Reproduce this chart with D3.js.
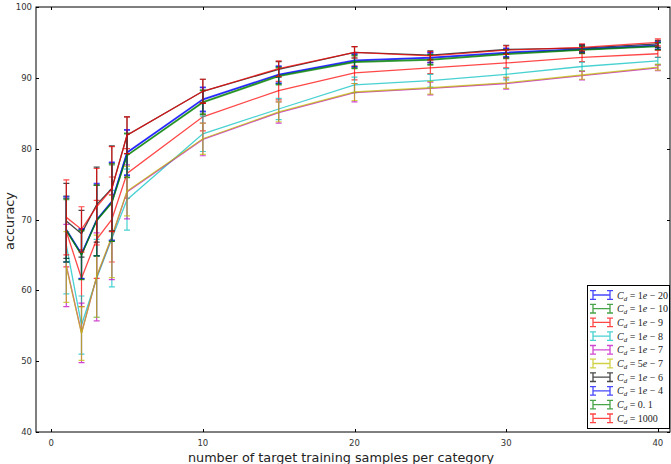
<!DOCTYPE html>
<html lang="en">
<head>
  <meta charset="UTF-8">
  <title>Accuracy vs target samples</title>
  <script src="https://d3js.org/d3.v7.min.js"></script>
  <style>
    body { margin: 0; background: #fff; }
    svg { display: block; }
    .tick-label { font-family: "DejaVu Sans", sans-serif; font-size: 8.5px; fill: #333; }
    .axis-label { font-family: "DejaVu Sans", sans-serif; font-size: 12.8px; fill: #222; }
    .legend-text { font-family: "Liberation Serif", "DejaVu Serif", serif; font-size: 10px; fill: #222; }
  </style>
</head>
<body>
<script>
// x positions: number of target training samples per category
var samples = [1, 2, 3, 4, 5, 10, 15, 20, 25, 30, 35, 40];

// legend labels (C_d values) and line colours, in drawing order
var cdLabels = ["1e-20", "1e-10", "1e-9", "1e-8", "1e-7", "5e-7", "1e-6", "1e-4", "0.1", "1000"];
var colors = ["#0000ff", "#008000", "#ff0000", "#00bfbf", "#bf00bf", "#bfbf00", "#000000", "#0000ff", "#008000", "#ff0000"];

// mean accuracy for each C_d
var acc_1e20 = [68.5, 65.1, 69.9, 72.5, 79.4, 86.9, 90.4, 92.4, 92.8, 93.5, 94.0, 94.5];
var acc_1e10 = [68.4, 65.0, 69.8, 72.3, 79.0, 86.5, 90.2, 92.2, 92.5, 93.3, 93.9, 94.4];
var acc_1e9  = [68.3, 61.7, 67.2, 70.0, 76.5, 84.5, 88.2, 90.7, 91.4, 92.1, 92.9, 93.4];
var acc_1e8  = [66.4, 55.1, 61.7, 67.3, 72.8, 82.1, 85.6, 89.0, 89.6, 90.5, 91.6, 92.4];
var acc_1e7  = [63.5, 54.0, 61.9, 67.5, 73.9, 81.3, 85.1, 87.9, 88.5, 89.2, 90.3, 91.4];
var acc_5e7  = [63.3, 53.9, 62.0, 67.6, 74.0, 81.4, 85.2, 88.0, 88.6, 89.3, 90.4, 91.5];
var acc_1e6  = [69.8, 68.0, 72.1, 74.4, 81.9, 88.1, 91.2, 93.6, 93.2, 94.0, 94.2, 94.8];
var acc_1e4  = [68.6, 65.2, 70.0, 72.6, 79.5, 87.0, 90.5, 92.5, 92.9, 93.6, 94.1, 94.6];
var acc_01   = [68.5, 65.0, 69.9, 72.4, 79.1, 86.6, 90.3, 92.3, 92.6, 93.4, 94.0, 94.5];
var acc_1000 = [70.3, 68.6, 71.8, 74.3, 81.9, 88.1, 91.3, 93.6, 93.1, 93.9, 94.3, 95.0];

// error bar half-widths
var err_1e20 = [4.5, 3.5, 5.0, 5.5, 3.2, 1.7, 1.2, 0.9, 0.7, 0.6, 0.5, 0.5];
var err_1e10 = [4.4, 3.4, 5.0, 5.4, 3.1, 1.7, 1.2, 0.9, 0.7, 0.6, 0.5, 0.5];
var err_1e9  = [5.0, 4.0, 5.5, 6.0, 3.5, 2.0, 1.3, 1.0, 0.8, 0.7, 0.6, 0.5];
var err_1e8  = [6.9, 4.1, 5.5, 6.8, 4.3, 2.5, 1.5, 1.1, 0.9, 0.8, 0.6, 0.5];
var err_1e7  = [5.8, 4.2, 6.2, 6.0, 3.8, 2.3, 1.5, 1.3, 0.9, 0.8, 0.6, 0.4];
var err_5e7  = [5.0, 3.8, 5.8, 5.8, 3.5, 2.2, 1.4, 1.2, 0.9, 0.8, 0.6, 0.4];
var err_1e6  = [5.3, 3.3, 5.3, 6.0, 2.6, 1.7, 1.1, 0.8, 0.6, 0.6, 0.5, 0.5];
var err_1e4  = [4.6, 3.5, 5.1, 5.5, 3.2, 1.7, 1.2, 0.9, 0.7, 0.6, 0.5, 0.5];
var err_01   = [4.5, 3.5, 5.0, 5.5, 3.1, 1.7, 1.2, 0.9, 0.7, 0.6, 0.5, 0.5];
var err_1000 = [5.3, 3.2, 5.4, 6.0, 2.6, 1.7, 1.1, 0.8, 0.6, 0.6, 0.5, 0.5];

var xTicks = [0, 10, 20, 30, 40];
var yTicks = [40, 50, 60, 70, 80, 90, 100];

var means = [acc_1e20, acc_1e10, acc_1e9, acc_1e8, acc_1e7, acc_5e7, acc_1e6, acc_1e4, acc_01, acc_1000];
var errs = [err_1e20, err_1e10, err_1e9, err_1e8, err_1e7, err_5e7, err_1e6, err_1e4, err_01, err_1000];

var series = cdLabels.map(function(lab, i) {
  return {
    label: lab,
    color: colors[i],
    points: samples.map(function(s, j) { return {x: s, y: means[i][j], e: errs[i][j]}; })
  };
});

var W = 671, H = 464;
var plotLeft = 36, plotRight = 670, plotTop = 7, plotBottom = 432;

var svg = d3.select("body").append("svg")
  .attr("width", W)
  .attr("height", H);

var x = d3.scaleLinear().domain([-1, 40.8]).range([plotLeft, plotRight]);
var y = d3.scaleLinear().domain([40, 100]).range([plotBottom, plotTop]);

// plot lines and error bars
var alpha = 0.72;
var line = d3.line().x(function(d) { return x(d.x); }).y(function(d) { return y(d.y); });

series.forEach(function(s) {
  var g = svg.append("g")
    .attr("stroke", s.color)
    .attr("stroke-opacity", alpha)
    .attr("fill", "none");

  g.append("path")
    .attr("d", line(s.points))
    .attr("stroke-width", 1.3);

  g.selectAll(".eb")
    .data(s.points)
    .enter().append("path")
    .attr("stroke-width", 1.2)
    .attr("d", function(d) {
      var cx = x(d.x), y0 = y(d.y - d.e), y1 = y(d.y + d.e);
      return "M" + cx + "," + y0 + "V" + y1 +
             "M" + (cx - 3) + "," + y0 + "H" + (cx + 3) +
             "M" + (cx - 3) + "," + y1 + "H" + (cx + 3);
    });
});

// frame
svg.append("rect")
  .attr("x", plotLeft).attr("y", plotTop)
  .attr("width", plotRight - plotLeft).attr("height", plotBottom - plotTop)
  .attr("fill", "none").attr("stroke", "#000").attr("stroke-width", 1);

// ticks (inward, all four sides)
var tickLen = 3;
xTicks.forEach(function(t) {
  var px = Math.round(x(t)) + 0.5;
  svg.append("line").attr("x1", px).attr("x2", px).attr("y1", plotBottom).attr("y2", plotBottom - tickLen).attr("stroke", "#000");
  svg.append("line").attr("x1", px).attr("x2", px).attr("y1", plotTop).attr("y2", plotTop + tickLen).attr("stroke", "#000");
  svg.append("text").attr("class", "tick-label")
    .attr("x", x(t)).attr("y", plotBottom + 14)
    .attr("text-anchor", "middle")
    .text(t);
});
yTicks.forEach(function(t) {
  var py = Math.round(y(t)) + 0.5;
  svg.append("line").attr("x1", plotLeft).attr("x2", plotLeft + tickLen).attr("y1", py).attr("y2", py).attr("stroke", "#000");
  svg.append("line").attr("x1", plotRight).attr("x2", plotRight - tickLen).attr("y1", py).attr("y2", py).attr("stroke", "#000");
  svg.append("text").attr("class", "tick-label")
    .attr("x", plotLeft - 4).attr("y", y(t) + 3)
    .attr("text-anchor", "end")
    .text(t);
});

// axis labels
svg.append("text").attr("class", "axis-label")
  .attr("x", 341).attr("y", 462)
  .attr("text-anchor", "middle")
  .text("number of target training samples per category");

svg.append("text").attr("class", "axis-label")
  .attr("transform", "translate(14," + 221 + ") rotate(-90)")
  .attr("text-anchor", "middle")
  .text("accuracy");

// legend
var lgX = 587, lgY = 285, lgW = 82, lgH = 143, rowH = 13.7;
svg.append("rect")
  .attr("x", lgX + 0.5).attr("y", lgY + 0.5)
  .attr("width", lgW).attr("height", lgH)
  .attr("fill", "#fff").attr("stroke", "#000").attr("stroke-width", 1);

series.forEach(function(s, i) {
  var cy = lgY + 10 + i * rowH;
  var g = svg.append("g")
    .attr("stroke", s.color)
    .attr("stroke-opacity", alpha)
    .attr("stroke-width", 1.3)
    .attr("fill", "none");
  var xa = lgX + 6, xb = lgX + 23;
  g.append("path").attr("d",
    "M" + xa + "," + cy + "H" + xb +
    "M" + xa + "," + (cy - 4.3) + "V" + (cy + 4.3) +
    "M" + xb + "," + (cy - 4.3) + "V" + (cy + 4.3) +
    "M" + (xa - 3) + "," + (cy - 4.3) + "H" + (xa + 3) +
    "M" + (xa - 3) + "," + (cy + 4.3) + "H" + (xa + 3) +
    "M" + (xb - 3) + "," + (cy - 4.3) + "H" + (xb + 3) +
    "M" + (xb - 3) + "," + (cy + 4.3) + "H" + (xb + 3));

  var t = svg.append("text").attr("class", "legend-text")
    .attr("x", lgX + 30).attr("y", cy + 3.5);
  t.append("tspan").attr("font-style", "italic").text("C");
  t.append("tspan").attr("font-style", "italic").attr("font-size", "7px").attr("dy", 2).text("d");
  var parts = s.label.split("e");
  if (parts.length === 2) {
    var exp = parts[1].replace("-", "");
    t.append("tspan").attr("dy", -2).text(" = " + parts[0]);
    t.append("tspan").attr("font-style", "italic").text("e");
    t.append("tspan").text(" \u2212 " + exp);
  } else {
    var num = s.label.replace(".", ". ");
    t.append("tspan").attr("dy", -2).text(" = " + num);
  }
});
</script>
</body>
</html>
